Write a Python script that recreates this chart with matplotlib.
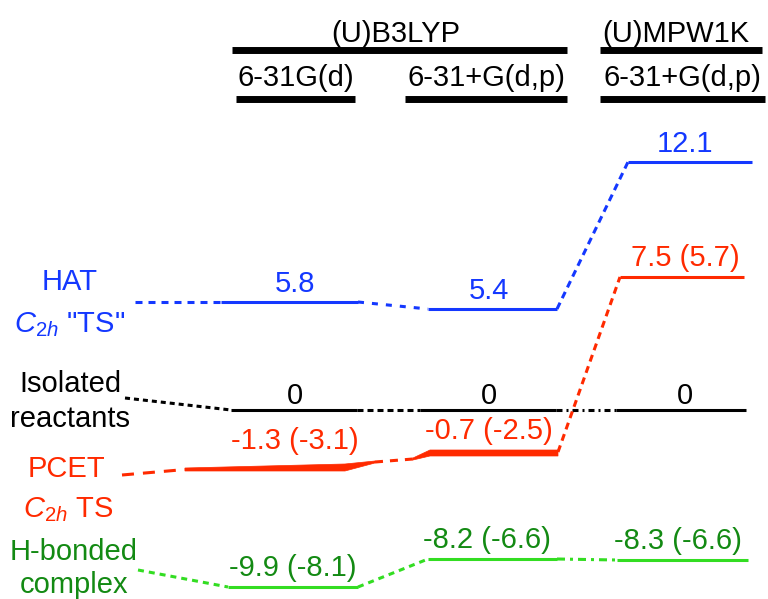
import numpy as np
import matplotlib
matplotlib.use("Agg")
import matplotlib.pyplot as plt
from matplotlib.patches import Polygon

plt.rcParams['font.family'] = ['Liberation Sans', 'DejaVu Sans']
plt.rcParams['mathtext.fontset'] = 'custom'
plt.rcParams['mathtext.it'] = 'Liberation Sans:italic'
plt.rcParams['mathtext.rm'] = 'Liberation Sans'
plt.rcParams['lines.scale_dashes'] = False

# ---------------- data ----------------
methods = ["(U)B3LYP", "(U)MPW1K"]
basis_sets = ["6-31G(d)", "6-31+G(d,p)", "6-31+G(d,p)"]

hat_ts = [5.8, 5.4, 12.1]
reactants = [0, 0, 0]
pcet_ts = [-1.3, -0.7, 7.5]
pcet_ts_alt = [-3.1, -2.5, 5.7]
hbond = [-9.9, -8.2, -8.3]
hbond_alt = [-8.1, -6.6, -6.6]

# ---------------- schematic (broken) energy axis ----------------
# energy value -> drawing height (pixels from top); the diagram is not to scale
axis_energy = np.array([-12.0, -9.9, -8.3, -8.2, -1.3, -0.7, 0.0, 5.4, 5.8, 7.5, 12.1, 20.0])
axis_height = np.array([620, 587, 560, 559, 468, 453, 410, 309, 302, 277, 162, 0], float)

def fwd(e):
    return np.interp(e, axis_energy, -axis_height)

def inv(v):
    return np.interp(v, -axis_height, axis_energy)

def E(px):
    return float(inv(-px))

W, H = 768, 599
fig = plt.figure(figsize=(W / 100, H / 100), dpi=100)
ax = fig.add_axes([0, 0, 1, 1])
ax.set_yscale('function', functions=(fwd, inv))
ax.set_xlim(0, W)
ax.set_ylim(E(H), E(0))
ax.axis('off')

FS = 21
BLUE = "#1438ff"
RED = "#ff2a00"
GREEN_L = "#33dd22"
GREEN_T = "#138a13"
BLACK = "black"
LW = 2.2

def px2pt(seq):
    return tuple(v * 0.72 for v in seq)

# ---------------- header ----------------
ax.text(396, E(42), methods[0], ha='center', va='baseline', fontsize=FS)
ax.text(676, E(42), methods[1], ha='center', va='baseline', fontsize=FS)
ax.plot([232, 567], [E(50), E(50)], color='black', lw=5, solid_capstyle='butt')
ax.plot([600, 762], [E(50), E(50)], color='black', lw=5, solid_capstyle='butt')
sub_x = [(236, 355), (405, 567), (600, 765)]
for (x0, x1), b in zip(sub_x, basis_sets):
    ax.text((x0 + x1) / 2, E(86), b, ha='center', va='baseline', fontsize=FS)
    ax.plot([x0, x1], [E(99), E(99)], color='black', lw=5, solid_capstyle='butt')

# ---------------- species labels ----------------
ax.text(70, E(290), "HAT", color=BLUE, ha='center', va='baseline', fontsize=FS)
ax.text(70, E(332), '$\\mathit{C_{2h}}$ "TS"', color=BLUE, ha='center', va='baseline', fontsize=FS)
ax.text(70, E(392), "Isolated", color=BLACK, ha='center', va='baseline', fontsize=FS)
ax.text(70, E(427), "reactants", color=BLACK, ha='center', va='baseline', fontsize=FS)
ax.text(66, E(477), "PCET", color=RED, ha='center', va='baseline', fontsize=FS)
ax.text(68, E(517), '$\\mathit{C_{2h}}$ TS', color=RED, ha='center', va='baseline', fontsize=FS)
ax.text(74, E(560), "H-bonded", color=GREEN_T, ha='center', va='baseline', fontsize=FS)
ax.text(74, E(593), "complex", color=GREEN_T, ha='center', va='baseline', fontsize=FS)

label_x = [295, 489, 685]

def label(x, y, s, color, off=7):
    ax.annotate(s, (x, y), xytext=(0, off), textcoords='offset points',
                ha='center', va='baseline', fontsize=FS, color=color)

def dline(x0, y0, x1, y1, color, dashes, lw=LW):
    ax.plot([x0, x1], [y0, y1], color=color, lw=lw, dashes=px2pt(dashes),
            dash_capstyle='butt')

# ---------------- HAT TS (blue) ----------------
blue_ext = [(221, 358), (428, 557), (628, 752)]
dline(135, hat_ts[0], blue_ext[0][0], hat_ts[0], BLUE, (7, 6))
for i, ((x0, x1), v) in enumerate(zip(blue_ext, hat_ts)):
    ax.plot([x0, x1], [v, v], color=BLUE, lw=LW, solid_capstyle='butt')
    label(label_x[i], v, f"{v:.1f}", BLUE)
dline(blue_ext[0][1], hat_ts[0], blue_ext[1][0], hat_ts[1], BLUE, (6, 8))
dline(blue_ext[1][1], hat_ts[1], blue_ext[2][0], hat_ts[2], BLUE, (7, 5))

# ---------------- isolated reactants (black) ----------------
blk_ext = [(231, 357), (420, 556), (616, 746)]
dline(125, E(398), blk_ext[0][0], reactants[0], BLACK, (5, 4))
for i, ((x0, x1), v) in enumerate(zip(blk_ext, reactants)):
    ax.plot([x0, x1], [v, v], color=BLACK, lw=LW, solid_capstyle='butt')
    label(label_x[i], v, f"{v:g}", BLACK, off=4)
dline(blk_ext[0][1], reactants[0], blk_ext[1][0], reactants[1], BLACK, (6, 4))
dline(blk_ext[1][1], reactants[1], blk_ext[2][0], reactants[2], BLACK, (6, 4, 2, 4))

# ---------------- PCET TS (red) ----------------
red_ext = [(185, 375), (413, 558), (620, 744)]
# B3LYP/6-31G(d): tapered level
h = -fwd(pcet_ts[0])
x0, x1 = red_ext[0]
ax.add_patch(Polygon([(x0, E(h)), (345, E(h - 4)), (x1, E(h - 7)), (x1, E(h - 5)),
                      (345, E(h + 3)), (x0, E(h + 3))],
                     closed=True, color=RED, lw=0.5))
# B3LYP/6-31+G(d,p): tapered thick level
h2 = -fwd(pcet_ts[1])
x0b, x1b = red_ext[1]
ax.add_patch(Polygon([(x0b, E(h2 + 5)), (430, E(h2 - 3)), (x1b, E(h2 - 3)),
                      (x1b, E(h2 + 3)), (430, E(h2 + 3)), (x0b, E(h2 + 7))],
                     closed=True, color=RED, lw=0.5))
# MPW1K
ax.plot(list(red_ext[2]), [pcet_ts[2]] * 2, color=RED, lw=LW, solid_capstyle='butt')

dline(122, E(475), x0, E(h + 1.5), RED, (12, 9))
dline(x1, E(h - 6), x0b, E(h2 + 6), RED, (8, 7))
dline(x1b, E(h2 - 1), red_ext[2][0], pcet_ts[2], RED, (7, 5))

red_off = [14, 10, 8]
for i, (v, a) in enumerate(zip(pcet_ts, pcet_ts_alt)):
    label(label_x[i], v, f"{v:.1f} ({a:.1f})", RED, off=red_off[i])

# ---------------- H-bonded complex (green) ----------------
grn_ext = [(228, 358), (428, 557), (617, 748)]
dline(138, E(570), grn_ext[0][0], hbond[0], GREEN_L, (6, 5))
for i, ((x0g, x1g), v) in enumerate(zip(grn_ext, hbond)):
    ax.plot([x0g, x1g], [v, v], color=GREEN_L, lw=LW, solid_capstyle='butt')
for i, (v, a) in enumerate(zip(hbond, hbond_alt)):
    label(label_x[i] - (2 if i < 2 else 7), v, f"{v:.1f} ({a:.1f})", GREEN_T, off=8)
dline(grn_ext[0][1], hbond[0], grn_ext[1][0], hbond[1], GREEN_L, (6, 5))
dline(grn_ext[1][1], hbond[1], grn_ext[2][0], hbond[2], GREEN_L, (8, 5, 3, 5))

fig.savefig("out.png", dpi=100)
